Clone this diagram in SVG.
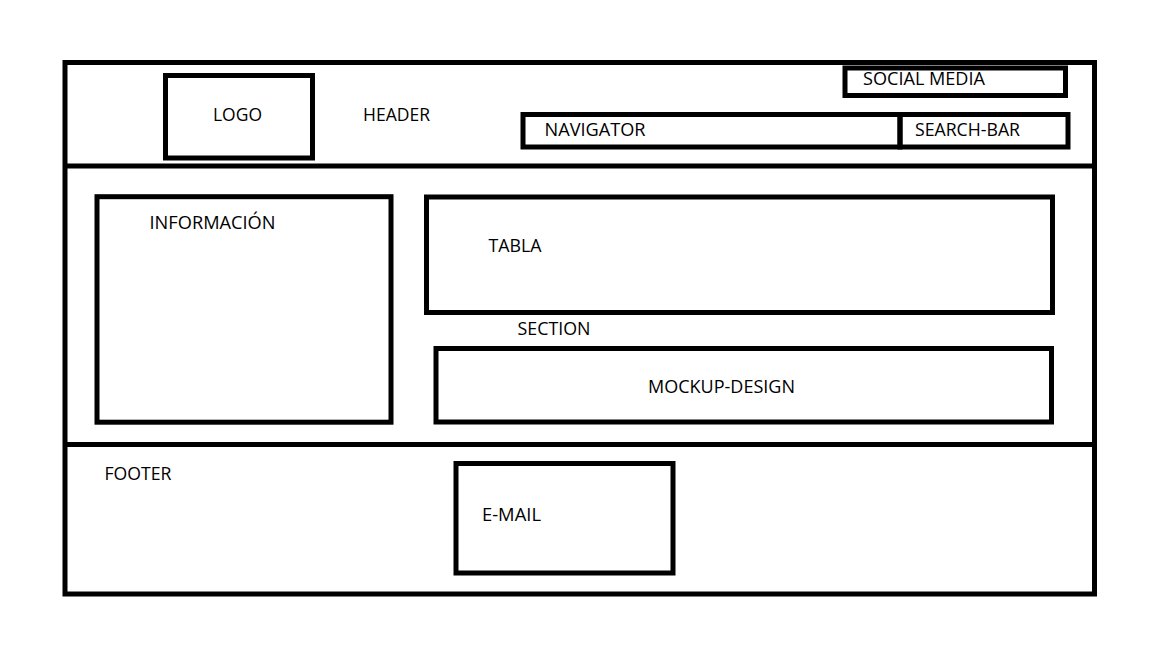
<svg xmlns="http://www.w3.org/2000/svg" width="1152" height="648" viewBox="0 0 1152 648">
  <style>
    .box { fill: none; stroke: #000; stroke-width: 5; }
    .line { stroke: #000; stroke-width: 5; fill: none; }
    .lbl { font-family: "Open Sans", "Noto Sans", "Liberation Sans", sans-serif; font-size: 17.5px; fill: #000; }
  </style>
  <rect x="0" y="0" width="1152" height="648" fill="#fff"/>

  <g id="page">
    <rect class="box" x="65" y="62.5" width="1029.5" height="531.5"/>
    <line class="line" x1="65" y1="166" x2="1094.5" y2="166"/>
    <line class="line" x1="65" y1="444.5" x2="1094.5" y2="444.5"/>
  </g>

  <g id="header">
    <text class="lbl" x="363" y="121" textLength="67" lengthAdjust="spacingAndGlyphs">HEADER</text>
  </g>

  <g id="logo">
    <rect class="box" x="165.5" y="75.5" width="147" height="82.5"/>
    <text class="lbl" x="213" y="121" textLength="49" lengthAdjust="spacingAndGlyphs">LOGO</text>
  </g>

  <g id="social-media">
    <rect class="box" x="845" y="68" width="220.5" height="27.5"/>
    <text class="lbl" x="863" y="84.5" textLength="122" lengthAdjust="spacingAndGlyphs">SOCIAL MEDIA</text>
  </g>

  <g id="navigator">
    <rect class="box" x="523" y="114.5" width="377" height="32.5"/>
    <text class="lbl" x="544.5" y="136" textLength="101" lengthAdjust="spacingAndGlyphs">NAVIGATOR</text>
  </g>

  <g id="search-bar">
    <rect class="box" x="900" y="114.5" width="168" height="32.5"/>
    <text class="lbl" x="915" y="136" textLength="105" lengthAdjust="spacingAndGlyphs">SEARCH-BAR</text>
  </g>

  <g id="section">
    <text class="lbl" x="517.5" y="335" textLength="73" lengthAdjust="spacingAndGlyphs">SECTION</text>
  </g>

  <g id="informacion">
    <rect class="box" x="97" y="196.7" width="294" height="225.5"/>
    <text class="lbl" x="149.5" y="229.3" textLength="126" lengthAdjust="spacingAndGlyphs">INFORMACIÓN</text>
  </g>

  <g id="tabla">
    <rect class="box" x="426.5" y="197" width="626" height="115.5"/>
    <text class="lbl" x="488.5" y="251.7" textLength="53" lengthAdjust="spacingAndGlyphs">TABLA</text>
  </g>

  <g id="mockup-design">
    <rect class="box" x="436" y="348.5" width="615.5" height="73.5"/>
    <text class="lbl" x="648" y="393" textLength="147" lengthAdjust="spacingAndGlyphs">MOCKUP-DESIGN</text>
  </g>

  <g id="footer">
    <text class="lbl" x="104.5" y="480" textLength="67" lengthAdjust="spacingAndGlyphs">FOOTER</text>
  </g>

  <g id="e-mail">
    <rect class="box" x="456" y="463.5" width="217" height="109.5"/>
    <text class="lbl" x="482" y="521" textLength="59" lengthAdjust="spacingAndGlyphs">E-MAIL</text>
  </g>

  <g id="connectors"></g>
</svg>
